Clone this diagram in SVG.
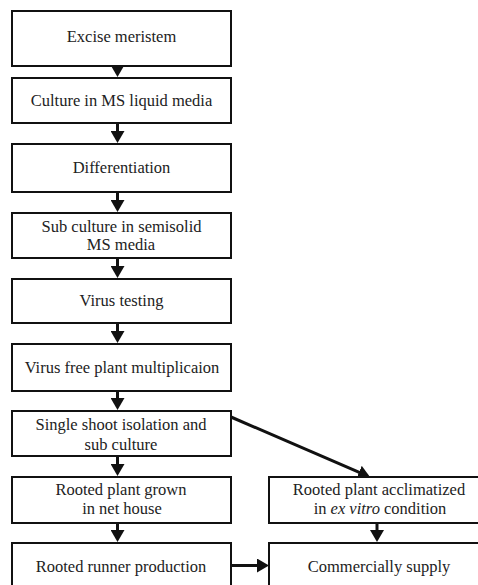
<svg xmlns="http://www.w3.org/2000/svg" width="478" height="585" viewBox="0 0 478 585">
<defs>
<style>
.box{fill:#fff;stroke:#111;stroke-width:2}
.t{font-family:'Times New Roman',serif;font-size:16.5px;fill:#222;text-anchor:middle}
.c{stroke:#111;stroke-width:3;fill:none}
</style>
<marker id="ah" viewBox="0 0 12 14" refX="6" refY="7" markerWidth="12" markerHeight="14" markerUnits="userSpaceOnUse" orient="auto">
<path d="M0,0 L12,7 L0,14 Z" fill="#111"/>
</marker>
</defs>
<rect width="478" height="585" fill="#fff"/>
<g id="connectors">
<line class="c" x1="117.5" y1="66" x2="117.5" y2="71" marker-end="url(#ah)"/>
<line class="c" x1="117.5" y1="123" x2="117.5" y2="137" marker-end="url(#ah)"/>
<line class="c" x1="117.5" y1="192" x2="117.5" y2="206" marker-end="url(#ah)"/>
<line class="c" x1="117.5" y1="258" x2="117.5" y2="272" marker-end="url(#ah)"/>
<line class="c" x1="117.5" y1="323" x2="117.5" y2="337" marker-end="url(#ah)"/>
<line class="c" x1="117.5" y1="391" x2="117.5" y2="404" marker-end="url(#ah)"/>
<line class="c" x1="117.5" y1="456" x2="117.5" y2="470" marker-end="url(#ah)"/>
<line class="c" x1="117.5" y1="523" x2="117.5" y2="536" marker-end="url(#ah)"/>
<line class="c" x1="377" y1="523" x2="377" y2="536" marker-end="url(#ah)"/>
<line class="c" x1="231" y1="417" x2="364.5" y2="474.6" marker-end="url(#ah)"/>
<line class="c" x1="231" y1="565.5" x2="263" y2="565.5" marker-end="url(#ah)"/>
</g>
<g id="n1"><rect class="box" x="12" y="11" width="219" height="55"/><text class="t" x="121.5" y="42">Excise meristem</text></g>
<g id="n2"><rect class="box" x="12" y="78" width="219" height="45"/><text class="t" x="121.5" y="106">Culture in MS liquid media</text></g>
<g id="n3"><rect class="box" x="12" y="144" width="219" height="48"/><text class="t" x="121.5" y="173">Differentiation</text></g>
<g id="n4"><rect class="box" x="12" y="213" width="219" height="45"/><text class="t" x="121.5" y="232">Sub culture in semisolid</text><text class="t" x="121" y="250">MS media</text></g>
<g id="n5"><rect class="box" x="12" y="279" width="219" height="44"/><text class="t" x="121.5" y="306">Virus testing</text></g>
<g id="n6"><rect class="box" x="12" y="344" width="219" height="47"/><text class="t" x="122" y="373">Virus free plant multiplicaion</text></g>
<g id="n7"><rect class="box" x="12" y="411" width="219" height="45"/><text class="t" x="121" y="430">Single shoot isolation and</text><text class="t" x="121" y="450">sub culture</text></g>
<g id="n8"><rect class="box" x="12" y="477" width="219" height="46"/><text class="t" x="121" y="495">Rooted plant grown</text><text class="t" x="122" y="514">in net house</text></g>
<g id="n9"><rect class="box" x="269" y="477" width="220" height="46"/><text class="t" x="379" y="495">Rooted plant acclimatized</text><text class="t" x="380" y="514">in <tspan font-style="italic">ex vitro</tspan> condition</text></g>
<g id="n10"><rect class="box" x="12" y="543" width="219" height="60"/><text class="t" x="121" y="572">Rooted runner production</text></g>
<g id="n11"><rect class="box" x="269" y="543" width="220" height="60"/><text class="t" x="379" y="572">Commercially supply</text></g>
</svg>
